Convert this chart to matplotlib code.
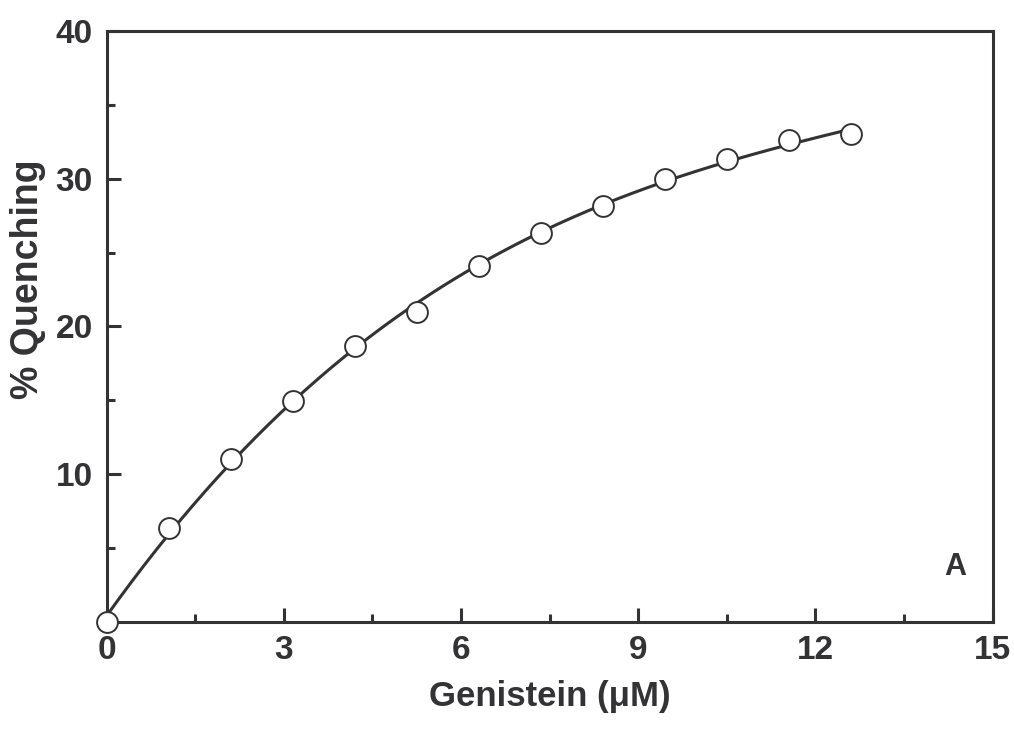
import numpy as np
import matplotlib.pyplot as plt
from matplotlib.ticker import MultipleLocator

# datos
genisteina = [0, 1.05, 2.1, 3.15, 4.2, 5.25, 6.3, 7.35, 8.4, 9.45, 10.5, 11.55, 12.6]
quenching = [0, 6.4, 11.05, 14.95, 18.7, 20.95, 24.1, 26.35, 28.15, 29.95, 31.35, 32.6, 33.0]

color = '#333335'
plt.rcParams['font.family'] = ['Liberation Sans', 'DejaVu Sans']
plt.rcParams['font.weight'] = 'bold'

fig = plt.figure(figsize=(10.14, 7.3), dpi=100)
ax = fig.add_axes([0.1052, 0.1475, 0.979 - 0.1052, 0.958 - 0.1475])

# curva suave ajustada a los puntos
coef = np.polyfit(genisteina, quenching, 3)
xs = np.linspace(0, genisteina[-1], 300)
ax.plot(xs, np.polyval(coef, xs), color=color, lw=2.2, zorder=2, clip_on=False)
ax.plot(genisteina, quenching, 'o', ms=15, mfc='white', mec=color, mew=1.4,
        zorder=3, clip_on=False)

ax.set_xlim(0, 15)
ax.set_ylim(0, 40)
ax.xaxis.set_major_locator(MultipleLocator(3))
ax.xaxis.set_minor_locator(MultipleLocator(1.5))
ax.set_yticks([10, 20, 30, 40])
ax.yaxis.set_minor_locator(MultipleLocator(5))

for s in ax.spines.values():
    s.set_linewidth(2.2)
    s.set_color(color)

ax.tick_params(which='both', direction='in', color=color, width=2.2,
               labelsize=24, labelcolor=color)
ax.tick_params(which='major', length=10)
ax.tick_params(which='minor', length=5.5)
ax.tick_params(axis='x', which='major', pad=9)
ax.tick_params(axis='y', which='major', pad=10)
ax.tick_params(top=False, right=False, which='both')

ax.set_xlabel('Genistein (\u03bcM)', fontsize=25, fontweight='bold', color=color, labelpad=10)
ax.set_ylabel('% Quenching', fontsize=27, fontweight='bold', color=color)
ax.yaxis.set_label_coords(-0.069, 0.58)
ax.text(14.36, 3.74, 'A', fontsize=22, fontweight='bold', color=color,
        ha='center', va='center')

fig.savefig('out.png', dpi=100)
